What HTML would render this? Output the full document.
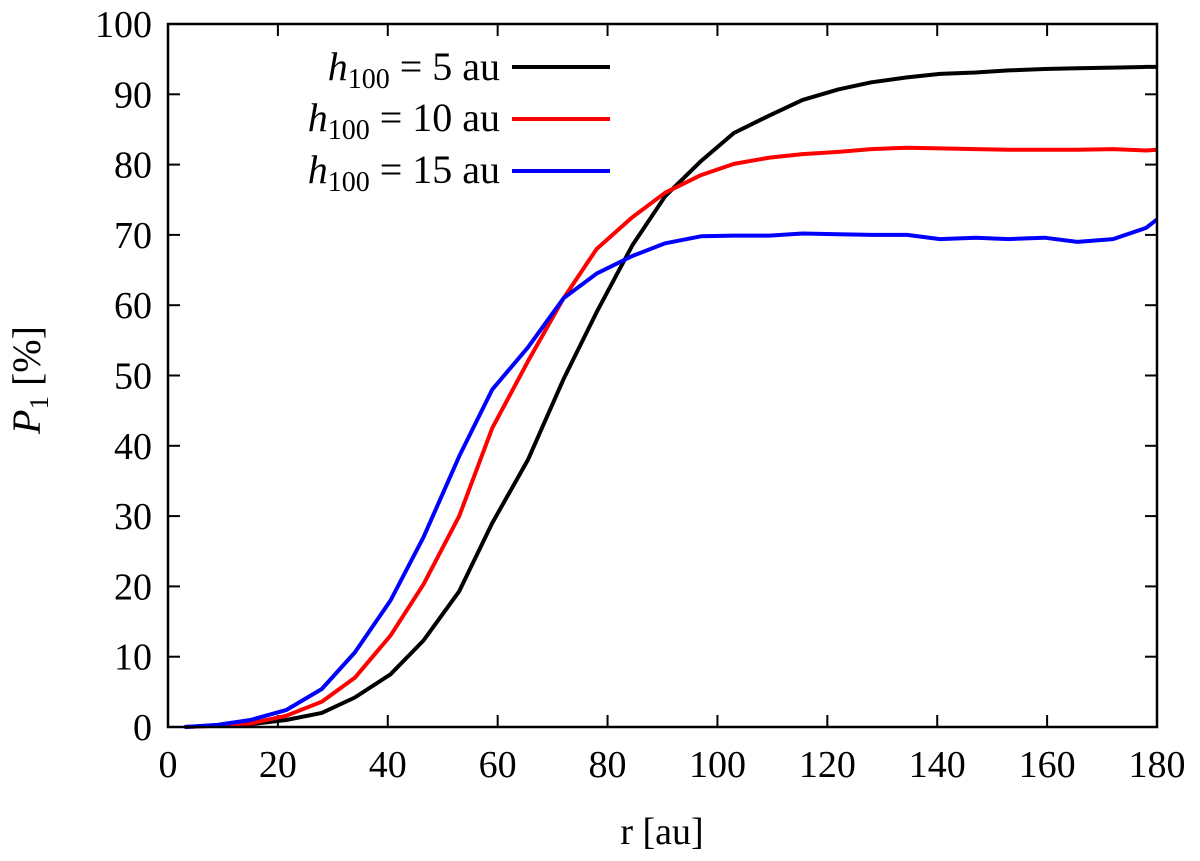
<!DOCTYPE html>
<html><head><meta charset="utf-8"><style>
body{margin:0;background:#fff}
svg text{font-family:"Liberation Serif",serif;fill:#000}
</style></head><body>
<svg width="1200" height="856" xmlns="http://www.w3.org/2000/svg">
<g id="ticks"></g>
<g id="series"></g>
<rect x="168" y="24" width="989" height="703" fill="none" stroke="#000" stroke-width="2.5"/>
<text x="662" y="844" font-size="38" text-anchor="middle">r [au]</text>
<text transform="translate(40,380) rotate(-90)" font-size="40" text-anchor="middle"><tspan font-style="italic">P</tspan><tspan font-size="27" dy="8">1</tspan><tspan dy="-8"> [%]</tspan></text>
<g id="legend">
<text x="500" y="80" font-size="40" text-anchor="end"><tspan font-style="italic">h</tspan><tspan font-size="28" dy="8">100</tspan><tspan dy="-8"> = 5 au</tspan></text>
<line x1="512" y1="67" x2="610" y2="67" stroke="#000" stroke-width="4"/>
<text x="500" y="131" font-size="40" text-anchor="end"><tspan font-style="italic">h</tspan><tspan font-size="28" dy="8">100</tspan><tspan dy="-8"> = 10 au</tspan></text>
<line x1="512" y1="119" x2="610" y2="119" stroke="#f00" stroke-width="4"/>
<text x="500" y="183" font-size="40" text-anchor="end"><tspan font-style="italic">h</tspan><tspan font-size="28" dy="8">100</tspan><tspan dy="-8"> = 15 au</tspan></text>
<line x1="512" y1="171" x2="610" y2="171" stroke="#00f" stroke-width="4"/>
</g>
</svg>
<script>
const rValues=[3,9,15,21.5,28,34,40.5,46.5,53,59,65.5,72,78,84.5,90.5,97,103,109.5,115.5,122,128,134.5,140.5,147,153,159.5,165.5,172,178,180];
const h5=[0,0.2,0.4,1,2,4.2,7.5,12.3,19.3,29,38,49.5,59,68.5,75.5,80.5,84.5,87,89.2,90.7,91.7,92.4,92.9,93.1,93.4,93.6,93.7,93.8,93.9,93.9];
const h10=[0,0.2,0.5,1.6,3.6,7,13,20.3,30,42.5,52,61,68,72.5,76,78.5,80.1,81,81.5,81.8,82.2,82.4,82.3,82.2,82.1,82.1,82.1,82.2,82,82.1];
const h15=[0,0.3,1,2.4,5.4,10.6,18,27,38.5,48,54,61,64.5,67,68.8,69.8,69.9,69.9,70.2,70.1,70,70,69.4,69.6,69.4,69.6,69,69.4,71,72.2];
const xTicks=[0,20,40,60,80,100,120,140,160,180];
const yTicks=[0,10,20,30,40,50,60,70,80,90,100];
const NS="http://www.w3.org/2000/svg";
const X0=168,X1=1157,Y0=727,Y1=24;
function sx(v){return X0+(v-0)/180*(X1-X0);}
function sy(v){return Y0-(v-0)/100*(Y0-Y1);}
const tg=document.getElementById('ticks');
function mk(t,a){const e=document.createElementNS(NS,t);for(const k in a)e.setAttribute(k,a[k]);return e;}
xTicks.forEach(v=>{
  const x=sx(v);
  const l1=mk('line',{x1:x,y1:Y0,x2:x,y2:Y0-12,stroke:'#000','stroke-width':2});
  
  
  tg.appendChild(l1);
  const l2=mk('line',{x1:x,y1:Y1,x2:x,y2:Y1+12,stroke:'#000','stroke-width':2});
  
  
  tg.appendChild(l2);
  const t=mk('text',{x:x,y:Y0+50,'font-size':38,'text-anchor':'middle'});
  t.textContent=v;
  
  
  tg.appendChild(t);
});
yTicks.forEach(v=>{
  const y=sy(v);
  const l1=mk('line',{x1:X0,y1:y,x2:X0+12,y2:y,stroke:'#000','stroke-width':2});
  
  
  tg.appendChild(l1);
  const l2=mk('line',{x1:X1,y1:y,x2:X1-12,y2:y,stroke:'#000','stroke-width':2});
  
  
  tg.appendChild(l2);
  const t=mk('text',{x:X0-16,y:y+13,'font-size':38,'text-anchor':'end'});
  t.textContent=v;
  
  
  tg.appendChild(t);
});
const sg=document.getElementById('series');
[[h5,'#000','series-h5'],[h10,'#f00','series-h10'],[h15,'#00f','series-h15']].forEach(([d,c,n])=>{
  const pts=rValues.map((r,i)=>sx(r).toFixed(1)+','+sy(d[i]).toFixed(1)).join(' ');
  const p=mk('polyline',{points:pts,fill:'none',stroke:c,'stroke-width':4,'stroke-linejoin':'round'});
  
  
  sg.appendChild(p);
});
</script>
</body></html>
